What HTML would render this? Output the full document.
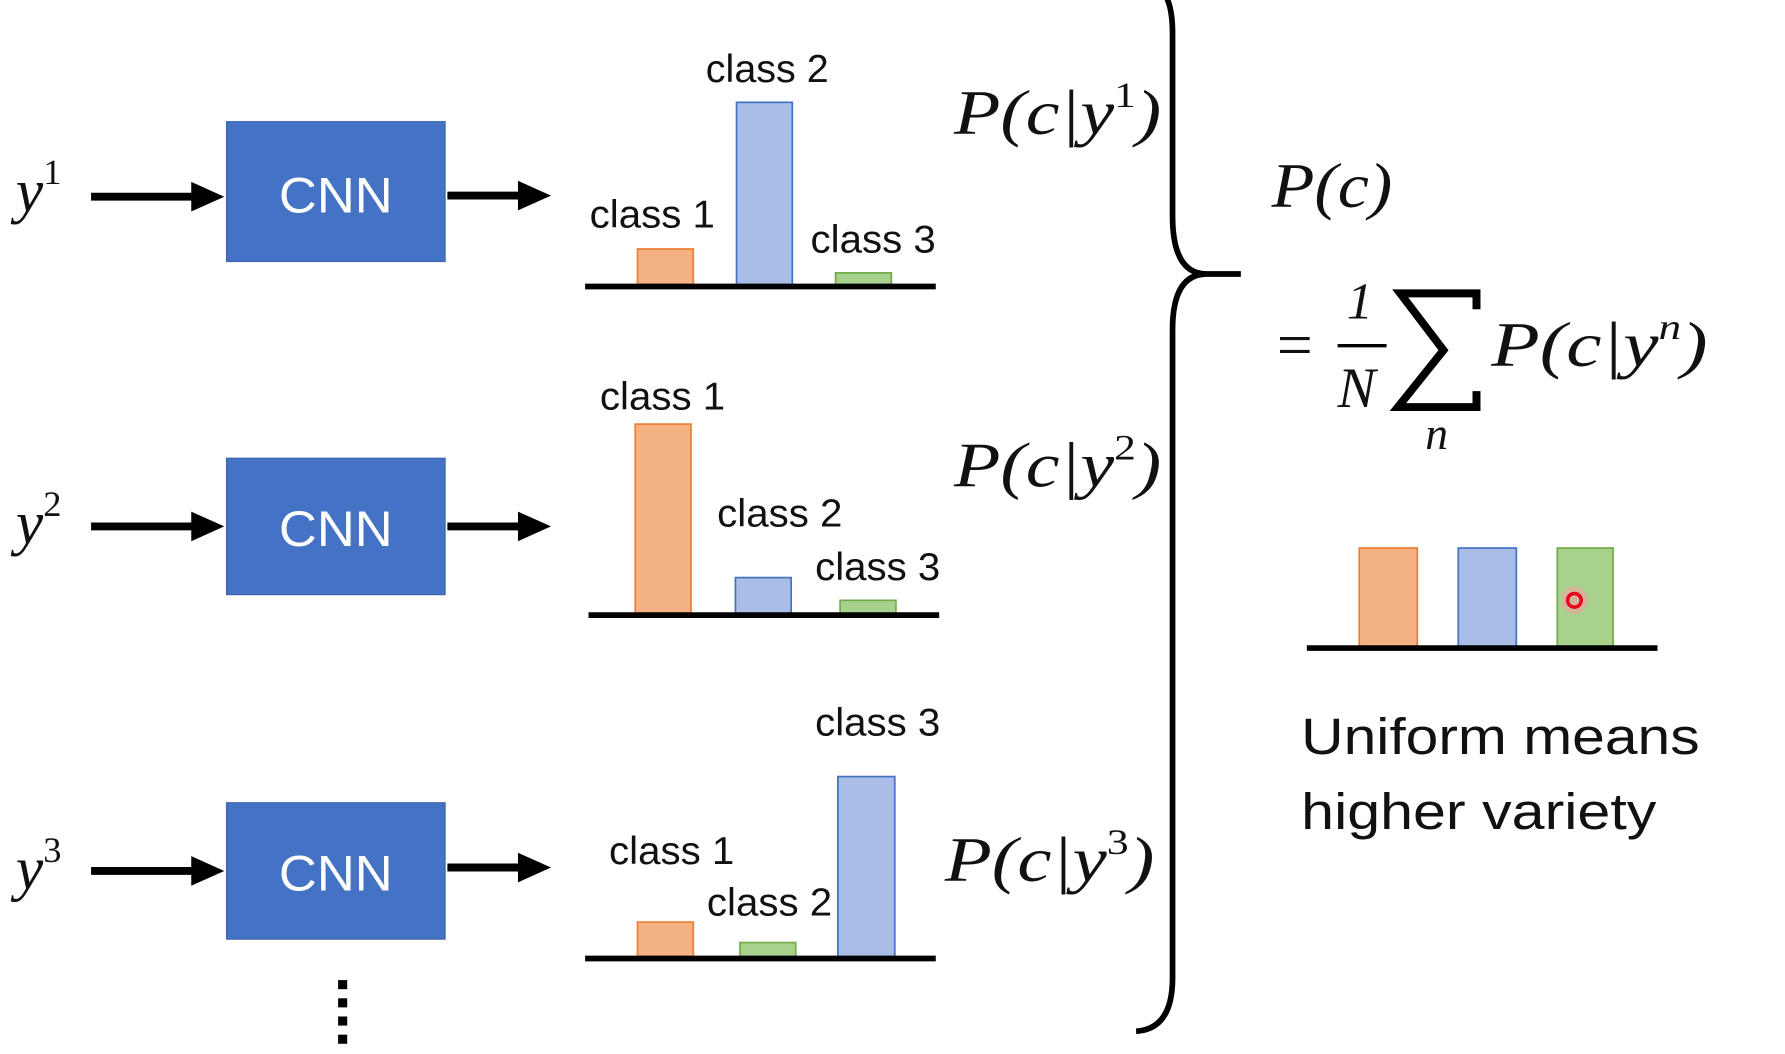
<!DOCTYPE html>
<html><head><meta charset="utf-8"><style>
html,body{margin:0;padding:0;background:#fff;overflow:hidden}
svg{display:block}
.c{font-family:"Liberation Sans",sans-serif;font-size:31px;fill:#111}
.m{font-family:"Liberation Serif",serif;font-style:italic;fill:#111}
.cnn{font-family:"Liberation Sans",sans-serif;font-size:44px;fill:#fff;text-anchor:middle}
.u{font-family:"Liberation Sans",sans-serif;font-size:45px;fill:#111}
</style></head><body>
<svg width="1785" height="1054" viewBox="0 0 1568 927" preserveAspectRatio="none" xmlns="http://www.w3.org/2000/svg">
<g stroke="#000" stroke-width="7">
<line x1="80" y1="173" x2="170" y2="173"/><path d="M168,160 L197,173 L168,186z" fill="#000" stroke="none"/>
<line x1="393" y1="172" x2="458" y2="172"/><path d="M455,159 L484,172 L455,185z" fill="#000" stroke="none"/>
<line x1="80" y1="463" x2="170" y2="463"/><path d="M168,450 L197,463 L168,476z" fill="#000" stroke="none"/>
<line x1="393" y1="463" x2="458" y2="463"/><path d="M455,450 L484,463 L455,476z" fill="#000" stroke="none"/>
<line x1="80" y1="766" x2="170" y2="766"/><path d="M168,753 L197,766 L168,779z" fill="#000" stroke="none"/>
<line x1="393" y1="763" x2="458" y2="763"/><path d="M455,750 L484,763 L455,776z" fill="#000" stroke="none"/>
</g>
<g fill="#4472c4" stroke="#3a64b0" stroke-width="1">
<rect x="199" y="107" width="192" height="123"/>
<rect x="199" y="403" width="192" height="120"/>
<rect x="199" y="706" width="192" height="120"/>
</g>
<text class="cnn" x="295" y="187" textLength="100" lengthAdjust="spacingAndGlyphs">CNN</text>
<text class="cnn" x="295" y="480" textLength="100" lengthAdjust="spacingAndGlyphs">CNN</text>
<text class="cnn" x="295" y="783" textLength="100" lengthAdjust="spacingAndGlyphs">CNN</text>
<text class="m" x="14" y="186" font-size="54">y<tspan font-size="32" dy="-24" font-style="normal">1</tspan></text>
<text class="m" x="14" y="478" font-size="54">y<tspan font-size="32" dy="-24" font-style="normal">2</tspan></text>
<text class="m" x="14" y="782" font-size="54">y<tspan font-size="32" dy="-24" font-style="normal">3</tspan></text>
<!-- chart 1 -->
<rect x="560" y="219" width="49" height="32" fill="#f4b183" stroke="#ed7d31" stroke-width="1.5"/>
<rect x="647" y="90" width="49" height="161" fill="#a9bde6" stroke="#4472c4" stroke-width="1.5"/>
<rect x="734" y="240" width="49" height="11" fill="#a9d18e" stroke="#70ad47" stroke-width="1.5"/>
<line x1="514" y1="252" x2="822" y2="252" stroke="#000" stroke-width="5"/>
<g class="c">
<text x="620" y="72" textLength="108" lengthAdjust="spacingAndGlyphs" font-size="34">class 2</text>
<text x="518" y="200" textLength="110" lengthAdjust="spacingAndGlyphs" font-size="34">class 1</text>
<text x="712" y="222" textLength="110" lengthAdjust="spacingAndGlyphs" font-size="34">class 3</text>
<text x="527" y="360" textLength="110" lengthAdjust="spacingAndGlyphs" font-size="34">class 1</text>
<text x="630" y="463" textLength="110" lengthAdjust="spacingAndGlyphs" font-size="34">class 2</text>
<text x="716" y="510" textLength="110" lengthAdjust="spacingAndGlyphs" font-size="34">class 3</text>
<text x="716" y="647" textLength="110" lengthAdjust="spacingAndGlyphs" font-size="34">class 3</text>
<text x="535" y="760" textLength="110" lengthAdjust="spacingAndGlyphs" font-size="34">class 1</text>
<text x="621" y="805" textLength="110" lengthAdjust="spacingAndGlyphs" font-size="34">class 2</text>
</g>
<!-- chart 2 -->
<rect x="558" y="373" width="49" height="167" fill="#f4b183" stroke="#ed7d31" stroke-width="1.5"/>
<rect x="646" y="508" width="49" height="32" fill="#a9bde6" stroke="#4472c4" stroke-width="1.5"/>
<rect x="738" y="528" width="49" height="12" fill="#a9d18e" stroke="#70ad47" stroke-width="1.5"/>
<line x1="517" y1="541" x2="825" y2="541" stroke="#000" stroke-width="5"/>
<!-- chart 3 -->
<rect x="560" y="811" width="49" height="32" fill="#f4b183" stroke="#ed7d31" stroke-width="1.5"/>
<rect x="650" y="829" width="49" height="14" fill="#a9d18e" stroke="#70ad47" stroke-width="1.5"/>
<rect x="736" y="683" width="50" height="160" fill="#a9bde6" stroke="#4472c4" stroke-width="1.5"/>
<line x1="514" y1="843" x2="822" y2="843" stroke="#000" stroke-width="5"/>
<!-- dots -->
<g fill="#000"><rect x="297" y="862" width="8" height="8"/><rect x="297" y="878" width="8" height="8"/><rect x="297" y="894" width="8" height="8"/><rect x="297" y="910" width="8" height="8"/></g>
<!-- P(c|y) labels -->
<text class="m" x="838" y="118" font-size="56" textLength="182" lengthAdjust="spacingAndGlyphs">P(c|y<tspan font-size="32" dy="-24" font-style="normal">1</tspan><tspan dy="24">)</tspan></text>
<text class="m" x="838" y="428" font-size="56" textLength="182" lengthAdjust="spacingAndGlyphs">P(c|y<tspan font-size="32" dy="-24" font-style="normal">2</tspan><tspan dy="24">)</tspan></text>
<text class="m" x="830" y="775" font-size="56" textLength="184" lengthAdjust="spacingAndGlyphs">P(c|y<tspan font-size="32" dy="-24" font-style="normal">3</tspan><tspan dy="24">)</tspan></text>
<!-- brace -->
<path d="M1023,-5 Q1030,5 1030,30 L1030,190 Q1030,241 1060,241 L1090,241 M1060,241 Q1030,241 1030,290 L1030,860 Q1030,905 998,907" fill="none" stroke="#000" stroke-width="5"/>
<!-- P(c) formula -->
<text class="m" x="1117" y="182" font-size="56" textLength="106" lengthAdjust="spacingAndGlyphs">P(c)</text>
<text class="m" x="1118" y="322" font-size="56" font-style="normal">=</text>
<text class="m" x="1183" y="280" font-size="46" font-style="normal">1</text>
<line x1="1175" y1="304" x2="1218" y2="304" stroke="#000" stroke-width="3"/>
<text class="m" x="1175" y="358" font-size="50">N</text>
<path d="M1297,272 L1297,258 L1230,258 L1268,308 L1228,358 L1297,358 L1297,344" fill="none" stroke="#000" stroke-width="7" stroke-linejoin="miter"/>
<text class="m" x="1252" y="395" font-size="40">n</text>
<text class="m" x="1310" y="322" font-size="56" textLength="190" lengthAdjust="spacingAndGlyphs">P(c|y<tspan font-size="32" dy="-24">n</tspan><tspan dy="24">)</tspan></text>
<!-- uniform chart -->
<rect x="1194" y="482" width="51" height="88" fill="#f4b183" stroke="#ed7d31" stroke-width="1.5"/>
<rect x="1281" y="482" width="51" height="88" fill="#a9bde6" stroke="#4472c4" stroke-width="1.5"/>
<rect x="1368" y="482" width="49" height="88" fill="#a9d18e" stroke="#70ad47" stroke-width="1.5"/>
<circle cx="1383" cy="528" r="12" fill="#f4a0a0" opacity="0.6"/>
<circle cx="1383" cy="528" r="6" fill="none" stroke="#e8001c" stroke-width="3"/>
<line x1="1148" y1="570" x2="1456" y2="570" stroke="#000" stroke-width="5"/>
<text class="u" x="1143" y="663" textLength="350" lengthAdjust="spacingAndGlyphs">Uniform means</text>
<text class="u" x="1143" y="729" textLength="312" lengthAdjust="spacingAndGlyphs">higher variety</text>
</svg>
</body></html>
